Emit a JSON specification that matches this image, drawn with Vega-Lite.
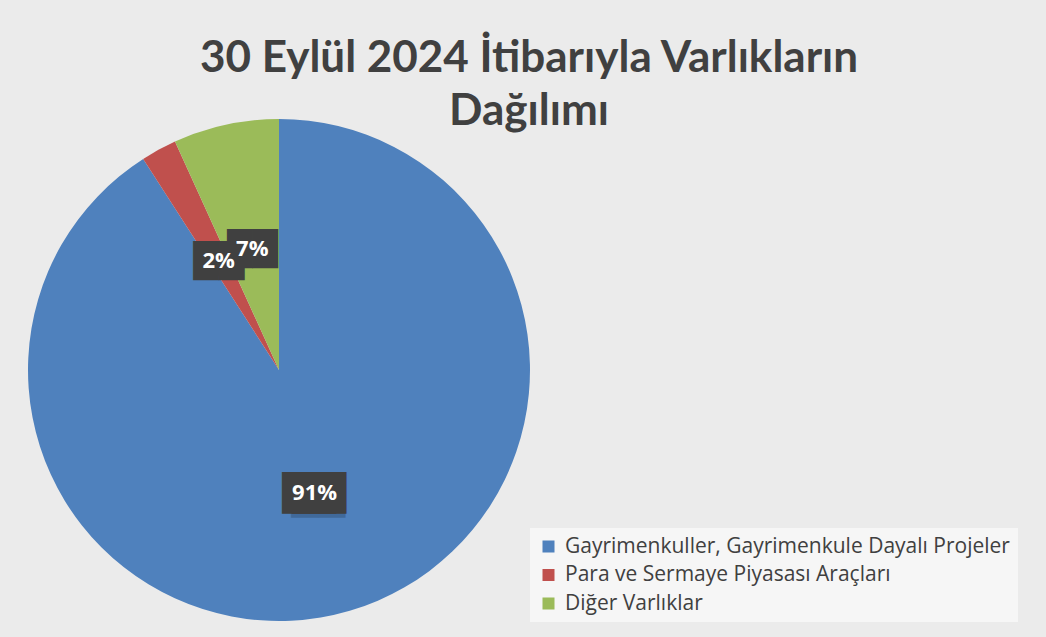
{
  "$schema": "https://vega.github.io/schema/vega-lite/v6.json",
  "width": 502,
  "height": 502,
  "autosize": {"type": "none"},
  "padding": {"left": 28, "top": 119, "right": 516, "bottom": 16},
  "background": "#ebebeb",
  "title": {
    "text": ["30 Eylül 2024 İtibarıyla Varlıkların", "Dağılımı"],
    "font": "Lato",
    "fontSize": 44,
    "fontWeight": "bold",
    "color": "#404040",
    "anchor": "middle",
    "dx": 250,
    "dy": 6,
    "baseline": "alphabetic",
    "lineHeight": 53,
    "offset": -44
  },
  "data": {
    "values": [
      {"kategori": "Gayrimenkuller, Gayrimenkule Dayalı Projeler", "oran": 90.9, "etiket": "91%", "sira": 1},
      {"kategori": "Para ve Sermaye Piyasası Araçları", "oran": 2.3, "etiket": "2%", "sira": 2},
      {"kategori": "Diğer Varlıklar", "oran": 6.8, "etiket": "7%", "sira": 3}
    ]
  },
  "layer": [
    {
      "mark": {"type": "arc"},
      "encoding": {
        "theta": {"field": "oran", "type": "quantitative", "stack": true},
        "order": {"field": "sira", "type": "quantitative"},
        "color": {
          "field": "kategori",
          "type": "nominal",
          "scale": {
            "domain": ["Gayrimenkuller, Gayrimenkule Dayalı Projeler", "Para ve Sermaye Piyasası Araçları", "Diğer Varlıklar"],
            "range": ["#4f81bd", "#c0504d", "#9bbb59"]
          },
          "legend": {
            "title": null,
            "orient": "none",
            "legendX": 502,
            "legendY": 409,
            "direction": "vertical",
            "symbolType": "square",
            "symbolSize": 144,
            "symbolStrokeWidth": 0,
            "labelFont": "Open Sans",
            "labelFontSize": 21,
            "labelColor": "#404040",
            "labelLimit": 600,
            "labelOffset": 6,
            "rowPadding": 6.5,
            "padding": 8,
            "fillColor": "rgba(255,255,255,0.55)"
          }
        }
      }
    },
    {
      "mark": {"type": "text", "radius": 126, "font": "DejaVu Sans", "fontSize": 35, "color": "#000000", "opacity": 0.18, "dx": 4, "dy": 7},
      "transform": [{"filter": "datum.sira == 1"}],
      "encoding": {
        "theta": {"field": "oran", "type": "quantitative", "stack": true, "scale": {"domain": [0, 100]}},
        "text": {"value": "██"}
      }
    },
    {
      "mark": {"type": "text", "radius": 126, "font": "DejaVu Sans", "fontSize": 35, "color": "#404040", "dx": -5, "dy": 3},
      "transform": [{"filter": "datum.sira == 1"}],
      "encoding": {
        "theta": {"field": "oran", "type": "quantitative", "stack": true, "scale": {"domain": [0, 100]}},
        "text": {"value": "██"}
      }
    },
    {
      "mark": {"type": "text", "radius": 126, "font": "DejaVu Sans", "fontSize": 35, "color": "#404040", "dx": 5, "dy": 3},
      "transform": [{"filter": "datum.sira == 1"}],
      "encoding": {
        "theta": {"field": "oran", "type": "quantitative", "stack": true, "scale": {"domain": [0, 100]}},
        "text": {"value": "██"}
      }
    },
    {
      "mark": {"type": "text", "radius": 126, "font": "DejaVu Sans", "fontSize": 33, "color": "#404040", "dy": 3},
      "encoding": {
        "theta": {"field": "oran", "type": "quantitative", "stack": true},
        "order": {"field": "sira", "type": "quantitative"},
        "text": {"condition": {"test": "datum.sira == 1", "value": ""}, "value": "██"}
      }
    },
    {
      "mark": {"type": "text", "radius": 126, "font": "Open Sans", "fontSize": 22, "fontWeight": "bold", "color": "#ffffff", "dy": 2},
      "encoding": {
        "theta": {"field": "oran", "type": "quantitative", "stack": true},
        "order": {"field": "sira", "type": "quantitative"},
        "text": {"field": "etiket"}
      }
    }
  ]
}
